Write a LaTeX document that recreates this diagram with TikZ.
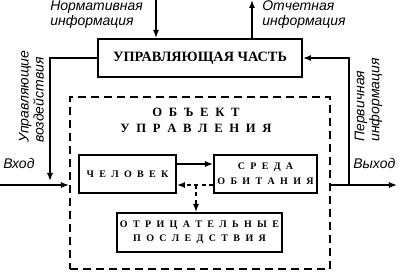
\documentclass[tikz,border=0pt]{standalone}
\usepackage{fontspec}
\setmainfont{Liberation Serif}
\setsansfont{Liberation Sans}
\usetikzlibrary{arrows.meta, positioning, calc}
\newcommand\lblfont{\sffamily\itshape\fontsize{10.5}{11.25}\selectfont}
\newcommand\ttlfont{\bfseries\fontsize{10.7}{12}\selectfont}
\newcommand\objfont{\bfseries\fontsize{9.5}{12}\selectfont\spaceskip=5pt\relax}
\newcommand\boxfont{\bfseries\fontsize{7.5}{11.25}\selectfont\spaceskip=4pt\relax}
\newcommand\negfont{\bfseries\fontsize{7.5}{10.5}\selectfont\spaceskip=4pt\relax}

\begin{document}
\begin{tikzpicture}[x=0.75pt, y=-0.75pt,
    lbl/.style={font=\lblfont, align=left, inner sep=0pt},
    blk/.style={draw, line width=1.5pt, inner sep=0pt, align=center, font=\boxfont, minimum height=28.5pt},
    arr/.style={line width=1pt, -{Latex[length=6pt,width=4.5pt]}},
    darr/.style={arr, dash pattern=on 3pt off 2.5pt}]
        \useasboundingbox (0,0) rectangle (405,274);
        % Blocks
        \node[blk, font=\ttlfont, minimum width=153pt] (ctrl) at (200,58) {УПРАВЛЯЮЩАЯ ЧАСТЬ};
        \node[draw, line width=1.5pt, dash pattern=on 6pt off 3.75pt, minimum width=195pt, minimum height=129pt] (obj) at (200,183) {};
        \node[font=\objfont, align=center, inner sep=0pt] (objttl) at (196,120) {О Б Ъ Е К Т\\У П Р А В Л Е Н И Я};
        \node[blk, minimum width=72.75pt] (human) at (127.5,174) {Ч Е Л О В Е К};
        \node[blk, minimum width=77.25pt] (env) at (265.5,174) {С Р Е Д А\\О Б И Т А Н И Я};
        \node[blk, font=\negfont, minimum width=123.75pt, minimum height=29.25pt] (neg) at (199.5,232.5) {О Т Р И Ц А Т Е Л Ь Н Ы Е\\П О С Л Е Д С Т В И Я};
        % Free ends
        \coordinate (norm) at (156,0);
        \coordinate (rep) at (252,0);
        \coordinate (actend) at (50,181);
        \coordinate (inp) at (0,185);
        \coordinate (outp) at (397,185);
        \coordinate (fbk) at (349,185);
        \coordinate (split) at (196,185);
        % Connectors
        \draw[arr] (norm) -- (norm |- ctrl.north);
        \draw[arr] (rep |- ctrl.north) -- (rep);
        \draw[arr] (ctrl.west) -| (actend);
        \draw[arr] (inp) -- (inp -| obj.west);
        \draw[arr] (outp -| obj.east) -- (outp);
        \draw[arr] (fbk) |- (ctrl.east);
        \draw[arr] ([yshift=7.5pt]human.east) -- ([yshift=7.5pt]human.east -| env.west);
        \draw[darr] (split -| env.west) -- (split -| human.east);
        \draw[darr] (split) -- (split |- neg.north);
        % Labels
        \node[lbl, anchor=west] (normlbl) at (50,14.5) {Нормативная\\информация};
        \node[lbl, anchor=west] (replbl) at (262,14.5) {Отчетная\\информация};
        \node[lbl, anchor=west, rotate=90] (actlbl) at (31.5,143) {Управляющие\\воздействия};
        \node[lbl, anchor=west, rotate=90] (fbklbl) at (368.5,142) {Первичная\\информация};
        \node[lbl, anchor=west] (inlbl) at (3,163) {Вход};
        \node[lbl, anchor=west] (outlbl) at (353,163) {Выход};
      \end{tikzpicture}
\end{document}
